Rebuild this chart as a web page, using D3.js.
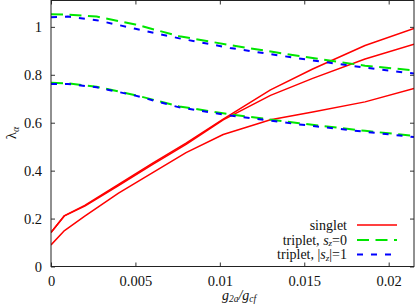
<!DOCTYPE html>
<html>
<head>
<meta charset="utf-8">
<script src="https://cdn.jsdelivr.net/npm/d3@7"></script>
<style>
  html, body { margin: 0; padding: 0; background: #fff; }
  svg { display: block; }
  text { font-family: "Liberation Serif", "Times New Roman", serif; }
</style>
</head>
<body>
<svg id="chart" width="415" height="304"></svg>
<script>
// ---- data ----
const gRed = [0, 0.0008, 0.002, 0.004, 0.006, 0.008, 0.0102, 0.013, 0.0155, 0.0186, 0.0215];
const singletA = [0.142, 0.2125, 0.255, 0.343, 0.43, 0.515, 0.615, 0.737, 0.824, 0.922, 0.993];
const singletB = [0.142, 0.2115, 0.252, 0.338, 0.425, 0.51, 0.612, 0.714, 0.785, 0.866, 0.928];
const singletC = [0.09, 0.15, 0.21, 0.306, 0.391, 0.475, 0.551, 0.612, 0.645, 0.687, 0.743];

const gDash = [0, 0.001, 0.0027, 0.005, 0.0076, 0.0106, 0.0147, 0.0186, 0.0215];
const tripS0Upper = [1.053, 1.051, 1.043, 1.01, 0.961, 0.924, 0.878, 0.838, 0.818];
const tripS1Upper = [1.040, 1.043, 1.028, 0.992, 0.952, 0.912, 0.868, 0.830, 0.805];
const tripS0Lower = [0.767, 0.764, 0.750, 0.715, 0.668, 0.635, 0.598, 0.566, 0.545];
const tripS1Lower = [0.762, 0.762, 0.748, 0.713, 0.664, 0.630, 0.593, 0.562, 0.540];

const xTicks = [0, 0.005, 0.01, 0.015, 0.02];
const xTickLabels = ["0", "0.005", "0.01", "0.015", "0.02"];
const yTicks = [0, 0.2, 0.4, 0.6, 0.8, 1];
const yTickLabels = ["0", "0.2", "0.4", "0.6", "0.8", "1"];
const legendLabels = ["singlet", "triplet, s_z=0", "triplet, |s_z|=1"];

// ---- layout ----
const svg = d3.select("#chart");
const L = 51, R = 414, T = 0.5, B = 266.5;
const x = d3.scaleLinear().domain([0, 0.0215]).range([L, R]);
const y = d3.scaleLinear().domain([0, 1.11]).range([B, T]);
const FS = 14.5;

const line = (gs) => d3.line().x((d, i) => x(gs[i])).y(d => y(d));

// series
const series = [
  { g: gRed, v: singletA, color: "#ff0000", w: 1.5, dash: null },
  { g: gRed, v: singletB, color: "#ff0000", w: 1.5, dash: null },
  { g: gRed, v: singletC, color: "#ff0000", w: 1.5, dash: null },
  { g: gDash, v: tripS0Upper, color: "#00e600", w: 2, dash: "12,6.5" },
  { g: gDash, v: tripS0Lower, color: "#00e600", w: 2, dash: "12,6.5" },
  { g: gDash, v: tripS1Upper, color: "#0000ff", w: 2, dash: "6,8" },
  { g: gDash, v: tripS1Lower, color: "#0000ff", w: 2, dash: "6,8" }
];

svg.append("clipPath").attr("id", "clip")
  .append("rect").attr("x", L).attr("y", T).attr("width", R - L).attr("height", B - T);

svg.append("g").attr("clip-path", "url(#clip)")
  .selectAll("path").data(series).join("path")
  .attr("d", s => line(s.g)(s.v))
  .attr("fill", "none")
  .attr("stroke", s => s.color)
  .attr("stroke-width", s => s.w)
  .attr("stroke-dasharray", s => s.dash)
  .attr("stroke-linejoin", "round");

// axes
const axB = svg.append("g").attr("transform", `translate(0,${B})`)
  .call(d3.axisBottom(x).tickValues(xTicks).tickFormat((d, i) => xTickLabels[i]).tickSize(-4).tickPadding(9));
const axT = svg.append("g").attr("transform", `translate(0,${T})`)
  .call(d3.axisTop(x).tickValues(xTicks).tickFormat("").tickSize(-4));
const axL = svg.append("g").attr("transform", `translate(${L},0)`)
  .call(d3.axisLeft(y).tickValues(yTicks).tickFormat((d, i) => yTickLabels[i]).tickSize(-4).tickPadding(9));
const axR = svg.append("g").attr("transform", `translate(${R},0)`)
  .call(d3.axisRight(y).tickValues(yTicks).tickFormat("").tickSize(-4));
[axB, axT, axL, axR].forEach(a => {
  a.select(".domain").remove();
  a.selectAll("line").attr("stroke", "#333");
  a.selectAll("text").attr("font-family", "Liberation Serif, serif").attr("font-size", FS).attr("fill", "#111");
});

// frame
svg.append("rect").attr("x", L).attr("y", T).attr("width", R - L).attr("height", B - T)
  .attr("fill", "none").attr("stroke", "#222").attr("stroke-width", 1);

// x-axis title
const xt = svg.append("text").attr("x", 239).attr("y", 300).attr("text-anchor", "middle")
  .attr("font-size", 14).attr("font-style", "italic").attr("fill", "#111");
xt.append("tspan").text("g");
xt.append("tspan").attr("font-size", 9.5).attr("dy", 2).text("2a");
xt.append("tspan").attr("dy", -2).text("/g");
xt.append("tspan").attr("font-size", 9.5).attr("dy", 2).text("cf");

// y-axis title
const yt = svg.append("text").attr("transform", "translate(16,133) rotate(-90)")
  .attr("text-anchor", "middle").attr("font-size", 15).attr("fill", "#111");
yt.append("tspan").text("λ");
yt.append("tspan").attr("font-size", 10).attr("font-style", "italic").attr("dy", 3).text("α");

// legend
const legY = [225, 240, 254.5];
const legTextX = 347, legLine0 = 357, legLine1 = 397;
const legStyle = [series[0], series[3], series[5]];
legendLabels.forEach((lab, i) => {
  const t = svg.append("text").attr("x", legTextX).attr("y", legY[i] + 4.5)
    .attr("text-anchor", "end").attr("font-size", 14).attr("fill", "#111");
  const m = lab.match(/^(.*?)(\|?)s_z(\|?)(=.*)$/);
  if (m) {
    t.append("tspan").text(m[1] + m[2]);
    t.append("tspan").attr("font-style", "italic").text("s");
    t.append("tspan").attr("font-style", "italic").attr("font-size", 9).attr("dy", 1.5).text("z");
    t.append("tspan").attr("dy", -1.5).text(m[3] + m[4]);
  } else {
    t.text(lab);
  }
  const s = legStyle[i];
  svg.append("line").attr("x1", legLine0).attr("x2", legLine1).attr("y1", legY[i]).attr("y2", legY[i])
    .attr("stroke", s.color).attr("stroke-width", s.w).attr("stroke-dasharray", s.dash);
});
</script>
</body>
</html>
